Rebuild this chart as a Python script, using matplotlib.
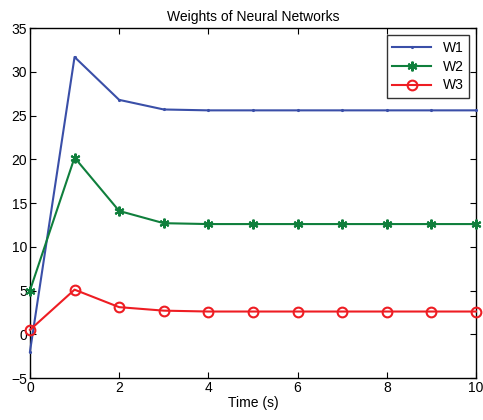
import matplotlib
matplotlib.use("Agg")
import matplotlib.pyplot as plt

plt.rcParams['font.family'] = ['Liberation Sans', 'DejaVu Sans']

time_s = [0, 1, 2, 3, 4, 5, 6, 7, 8, 9, 10]
w1 = [-2.0, 31.7, 26.8, 25.7, 25.6, 25.6, 25.6, 25.6, 25.6, 25.6, 25.6]
w2 = [5.0, 20.2, 14.1, 12.7, 12.6, 12.6, 12.6, 12.6, 12.6, 12.6, 12.6]
w3 = [0.5, 5.1, 3.1, 2.7, 2.6, 2.6, 2.6, 2.6, 2.6, 2.6, 2.6]

fig = plt.figure(figsize=(4.83, 4.2), dpi=100)
ax = fig.add_axes([0.062, 0.1, 0.9235, 0.833])

ax.plot(time_s, w1, color='#3a4fa8', lw=1.5, marker='.', ms=2.5, label='W1',
        clip_on=False, zorder=3)
ax.plot(time_s, w2, color='#0f7f3c', lw=1.5, marker=(6, 2, 0), ms=7, mew=1.5,
        label='W2', clip_on=False, zorder=3)
ax.plot(time_s, w3, color='#ee1d23', lw=1.5, marker='o', ms=7, mfc='none',
        mew=1.5, label='W3', clip_on=False, zorder=3)

ax.set_xlim(0, 10)
ax.set_ylim(-5, 35)
ax.set_xticks(range(0, 11, 2))
ax.set_yticks(range(-5, 36, 5))
ax.set_yticklabels(['\u22125'] + [str(v) for v in range(0, 36, 5)])
ax.tick_params(direction='in', length=4, labelsize=10, top=True, right=True, pad=2)
for s in ax.spines.values():
    s.set_linewidth(1.0)
ax.set_xlabel('Time (s)', fontsize=10, labelpad=1)
ax.set_title('Weights of Neural Networks', fontsize=10, pad=5)
leg = ax.legend(loc='upper right', fontsize=10, fancybox=False, edgecolor='black',
                handlelength=2.8, borderaxespad=0.5, labelspacing=0.35)
leg.get_frame().set_linewidth(1.0)
leg.set_zorder(5)

fig.savefig('out.png', dpi=100)
